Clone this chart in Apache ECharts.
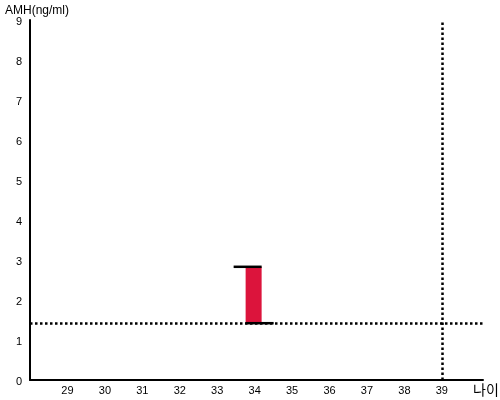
<!DOCTYPE html>
<html><head><meta charset="utf-8">
<script src="https://cdn.jsdelivr.net/npm/echarts@6/dist/echarts.min.js"></script>
<style>html,body{margin:0;padding:0;background:#fff}#c{width:500px;height:400px}</style>
</head><body><div id="c"></div>
<script>
// Data
var xTicks = [29, 30, 31, 32, 33, 34, 35, 36, 37, 38, 39];
var rangeAge = [34];
var rangeLow = [1.42];
var rangeHigh = [2.83];
var refValue = [1.41];
var refAge = [39];
var yTicks = [0, 1, 2, 3, 4, 5, 6, 7, 8, 9];

var font = 'Liberation Sans, Arial, sans-serif';
var chart = echarts.init(document.getElementById('c'), null, {renderer: 'canvas'});
var rangeData = rangeAge.map(function (a, i) { return [a, rangeLow[i], rangeHigh[i]]; });

chart.setOption({
  animation: false,
  grid: {left: 30, right: 17, top: 20, bottom: 20, containLabel: false, outerBoundsMode: 'none'},
  xAxis: {
    type: 'value', min: 28, max: 40.1, interval: 1,
    name: '나이', nameLocation: 'end', nameGap: -10,
    nameTextStyle: {fontFamily: 'Noto Sans CJK KR', fontSize: 14, color: '#000', verticalAlign: 'top', align: 'left', padding: [3, 0, 0, 0]},
    axisLine: {lineStyle: {color: '#000', width: 2}},
    axisTick: {show: false},
    splitLine: {show: false},
    axisLabel: {color: '#000', fontFamily: font, fontSize: 11, margin: 5,
      formatter: function (v) { return xTicks.indexOf(v) >= 0 ? String(v) : ''; }}
  },
  yAxis: {
    type: 'value', min: 0, max: 9, interval: 1,
    name: 'AMH(ng/ml)', nameLocation: 'end', nameGap: 8,
    nameTextStyle: {fontFamily: font, fontSize: 12, color: '#000', align: 'left', verticalAlign: 'middle', padding: [0, 0, 0, -25]},
    axisLine: {show: true, lineStyle: {color: '#000', width: 2}},
    axisTick: {show: false},
    splitLine: {show: false},
    axisLabel: {color: '#000', fontFamily: font, fontSize: 11, margin: 8, verticalAlign: 'top', lineHeight: 4,
      formatter: function (v) { return yTicks.indexOf(v) >= 0 ? String(v) : ''; }}
  },
  series: [{
    type: 'custom',
    data: rangeData,
    renderItem: function (params, api) {
      var x = api.value(0), lo = api.value(1), hi = api.value(2);
      var pLo = api.coord([x, lo]), pHi = api.coord([x, hi]);
      var cx = pLo[0] - 1, w = 16;
      return {type: 'group', children: [
        {type: 'rect', shape: {x: cx - w / 2, y: pHi[1], width: w, height: pLo[1] - pHi[1]},
          style: {fill: '#DC143C'}},
        {type: 'line', shape: {x1: cx - 20, y1: pHi[1], x2: cx + 8, y2: pHi[1]},
          style: {stroke: '#000', lineWidth: 2.5}},
        {type: 'line', shape: {x1: cx - 8, y1: pLo[1], x2: cx + 20, y2: pLo[1]},
          style: {stroke: '#000', lineWidth: 2.5}}
      ]};
    },
    markLine: {
      silent: true, symbol: 'none', label: {show: false},
      lineStyle: {color: '#000', width: 2.5, type: [2.5, 2.5]},
      data: [{yAxis: refValue[0]}, {xAxis: refAge[0]}]
    },
    z: 3
  }]
});
</script></body></html>
